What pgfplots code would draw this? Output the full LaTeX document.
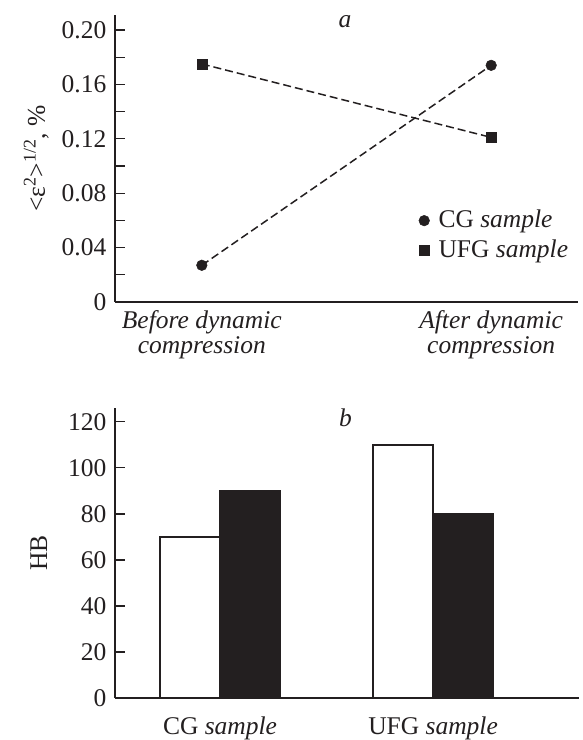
\documentclass[border=0pt]{standalone}
\usepackage{fontspec}
\setmainfont{Liberation Serif}
\usepackage{pgfplots}
\pgfplotsset{compat=1.18}
\definecolor{ink}{RGB}{35,31,32}
\newcommand{\fs}{\fontsize{25.5}{25}\selectfont}
\begin{document}
\fs
\begin{tikzpicture}
\useasboundingbox (0,0) rectangle (582pt,740pt);
\pgfplotsset{
  base/.style={
    scale only axis,
    axis x line=bottom, axis y line=left,
    axis line style={-, line width=1.6pt, draw=ink},
    major tick length=10pt, minor tick length=10pt,
    tick style={line width=1.3pt, draw=ink},
    xtick style={draw=none},
    /pgf/number format/assume math mode=true,
    tick label style={text=ink, font=\fs},
    label style={text=ink, font=\fs},
  }
}
% ---------- panel a ----------
\begin{axis}[base,
  tick align=inside,
  at={(115pt,438pt)}, anchor=south west, width=463pt, height=287pt,
  xmin=-0.3, xmax=1.3, ymin=0, ymax=0.211,
  xtick={0,1},
  xticklabels={{Before dynamic\\compression},{After dynamic\\compression}},
  xticklabel style={align=center, font=\fs\itshape},
  ytick={0,0.04,0.08,0.12,0.16,0.20},
  yticklabels={0,0.04,0.08,0.12,0.16,0.20},
  minor ytick={0.02,0.06,0.10,0.14,0.18},
  ylabel={<ε\textsuperscript{2}>\textsuperscript{1/2}, \%},
  ylabel style={at={(axis description cs:-0.17,0.5)}, anchor=center},
  legend style={at={(0.656,0.232)}, anchor=west, draw=none, fill=none,
    inner sep=0pt, row sep=4pt, font=\fs, text=ink,
    nodes={inner xsep=9pt}},
  legend cell align=left,
]
\addplot[ink, line width=1.5pt, dash pattern=on 8pt off 4pt, mark=*, mark size=5.3pt,
  mark options={solid, fill=ink, draw=ink, line width=0.5pt}, forget plot]
  coordinates {(0,0.027) (1,0.174)};
\addplot[ink, line width=1.5pt, dash pattern=on 8pt off 4pt, mark=square*, mark size=5pt,
  mark options={solid, fill=ink, draw=ink, line width=0.5pt}, forget plot]
  coordinates {(0,0.175) (1,0.121)};
\addlegendimage{only marks, mark=*, mark size=5.3pt, ink, mark options={fill=ink, line width=0.5pt}}
\addlegendentry{CG \textit{sample}}
\addlegendimage{only marks, mark=square*, mark size=5pt, ink, mark options={fill=ink, line width=0.5pt}}
\addlegendentry{UFG \textit{sample}}
\node[font=\fs\itshape, text=ink, inner sep=0pt] at (rel axis cs:0.497,0.978) {a};
\end{axis}
% ---------- panel b ----------
\begin{axis}[base,
  tick align=inside,
  at={(115pt,42pt)}, anchor=south west, width=464pt, height=290pt,
  ybar=0pt, bar width=60pt,
  xmin=-0.493, xmax=1.685, ymin=0, ymax=126,
  xtick={0,1},
  xticklabels={CG \textit{sample},UFG \textit{sample}},
  ytick={0,20,40,60,80,100,120},
  ylabel={HB},
  ylabel style={at={(axis description cs:-0.164,0.5)}, anchor=center},
]
\addplot[draw=ink, fill=white, line width=1.5pt] coordinates {(0,70) (1,110)};
\addplot[draw=ink, fill=ink, line width=1.5pt] coordinates {(0,90) (1,80)};
\node[font=\fs\itshape, text=ink, inner sep=0pt] at (rel axis cs:0.497,0.966) {b};
\end{axis}
\end{tikzpicture}
\end{document}
